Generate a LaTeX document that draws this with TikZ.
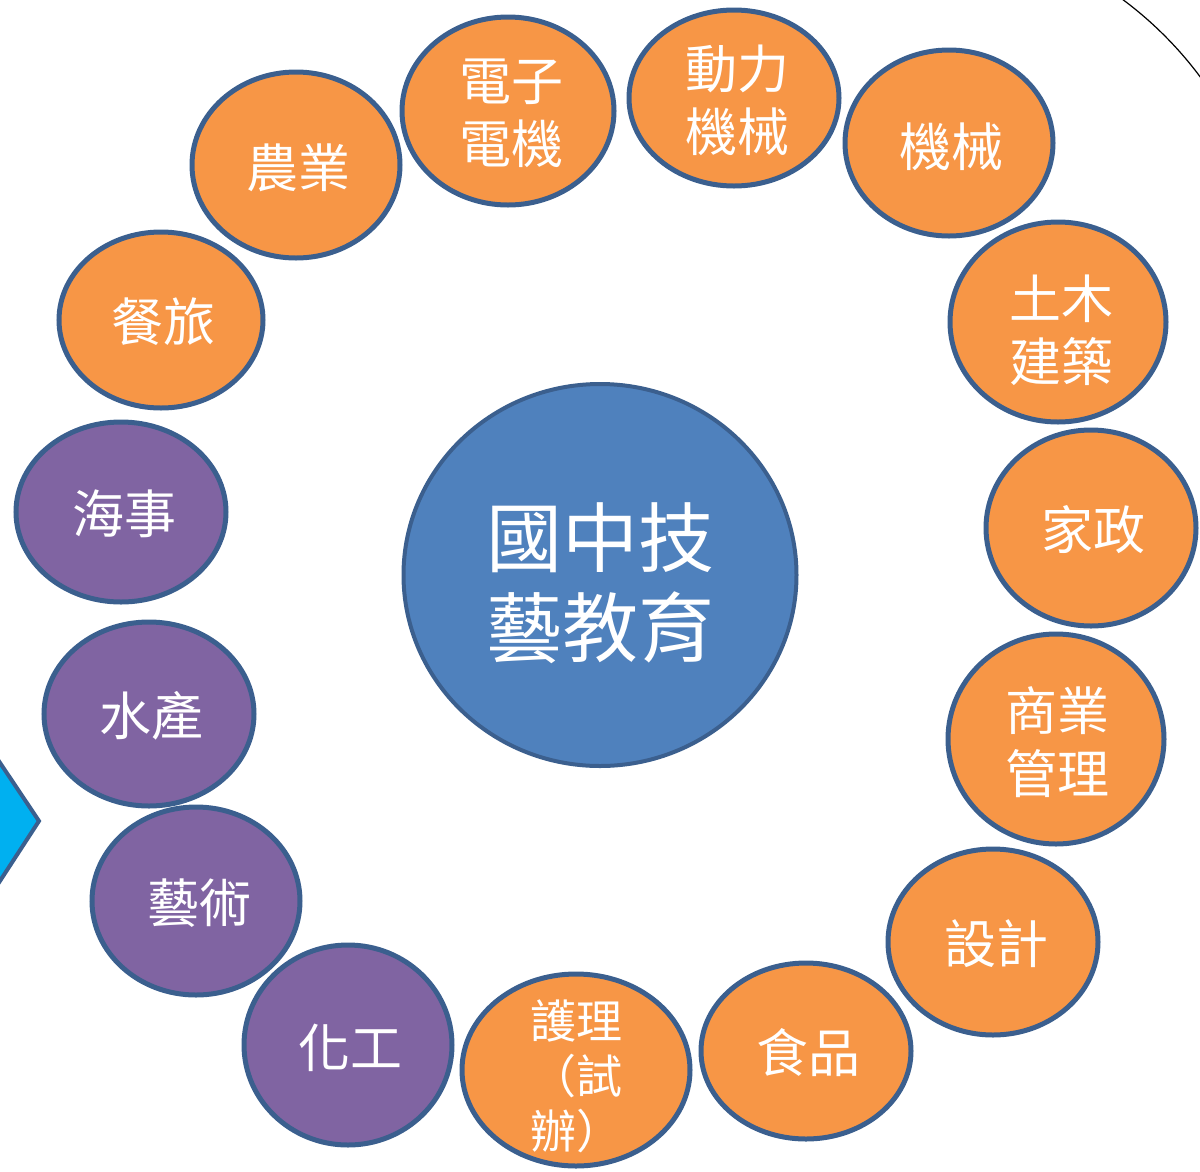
\documentclass[tikz,border=0pt]{standalone}
\usepackage{fontspec}
\setmainfont{Noto Sans CJK TC}
\usetikzlibrary{shapes.geometric}
\definecolor{orangefill}{HTML}{F79646}
\definecolor{purplefill}{HTML}{8064A2}
\definecolor{rimblue}{HTML}{3B5F8E}
\definecolor{corefill}{HTML}{4F81BD}
\definecolor{arrowcyan}{HTML}{00B0F0}

\begin{document}
\begin{tikzpicture}[x=1pt, y=-1pt, line width=5pt,
  blob/.style={ellipse, draw=rimblue, inner sep=0pt},
  orangeblob/.style={blob, fill=orangefill},
  purpleblob/.style={blob, fill=purplefill},
  blobtext/.style={text=white, align=center, inner sep=0pt, font=\fontsize{52}{63}\selectfont}]

  \useasboundingbox (0,0) rectangle (1200,1171);

  % arrow on the left edge and arc in the corner
  \draw[line width=4pt, draw=rimblue, fill=arrowcyan] (-30,718) -- (39,821) -- (-30,927) -- cycle;
  \begin{scope}
    \clip (1000,0) rectangle (1200,200);
    \draw[line width=1.2pt, black] (900,300) circle[radius=374];
  \end{scope}

  % centre
  \node[ellipse, draw=rimblue, fill=corefill, line width=4pt, inner sep=0pt,
        minimum width=393pt, minimum height=382pt] (core) at (600,575) {};
  \node[text=white, align=center, inner sep=0pt, font=\fontsize{76}{90}\selectfont]
        (core-txt) at (600,583) {國中技\\藝教育};

  % orange ring
  \node[orangeblob, minimum width=208pt, minimum height=186pt] (nongye) at (296,165) {};
  \node[blobtext] (nongye-txt) at (298,168) {農業};

  \node[orangeblob, minimum width=212pt, minimum height=188pt] (dianzi) at (508,111) {};
  \node[blobtext] (dianzi-txt) at (511,113) {電子\\電機};

  \node[orangeblob, minimum width=210pt, minimum height=176pt] (dongli) at (734,98) {};
  \node[blobtext] (dongli-txt) at (737,100) {動力\\機械};

  \node[orangeblob, minimum width=208pt, minimum height=186pt] (jixie) at (949,143) {};
  \node[blobtext] (jixie-txt) at (951,147) {機械};

  \node[orangeblob, minimum width=216pt, minimum height=200pt] (tumu) at (1058,322) {};
  \node[blobtext] (tumu-txt) at (1061,330) {土木\\建築};

  \node[orangeblob, minimum width=210pt, minimum height=196pt] (jiazheng) at (1091,528) {};
  \node[blobtext] (jiazheng-txt) at (1093,530) {家政};

  \node[orangeblob, minimum width=216pt, minimum height=210pt] (shangye) at (1056,739) {};
  \node[blobtext] (shangye-txt) at (1057,742) {商業\\管理};

  \node[orangeblob, minimum width=210pt, minimum height=186pt] (sheji) at (993,942) {};
  \node[blobtext] (sheji-txt) at (996,944) {設計};

  \node[orangeblob, minimum width=210pt, minimum height=176pt] (shipin) at (806,1051) {};
  \node[blobtext] (shipin-txt) at (808,1053) {食品};

  \node[orangeblob, minimum width=228pt, minimum height=192pt] (huli) at (576,1070) {};
  \node[blobtext, font=\fontsize{46}{55}\selectfont] (huli-txt) at (576,1076) {護理\\（試\\辦）};

  \node[orangeblob, minimum width=204pt, minimum height=176pt] (canlu) at (161,320) {};
  \node[blobtext] (canlu-txt) at (163,322) {餐旅};

  % purple ring
  \node[purpleblob, minimum width=208pt, minimum height=200pt] (huagong) at (348,1045) {};
  \node[blobtext] (huagong-txt) at (350,1048) {化工};

  \node[purpleblob, minimum width=208pt, minimum height=188pt] (yishu) at (196,901) {};
  \node[blobtext] (yishu-txt) at (199,903) {藝術};

  \node[purpleblob, minimum width=210pt, minimum height=184pt] (shuichan) at (149,714) {};
  \node[blobtext] (shuichan-txt) at (151,716) {水產};

  \node[purpleblob, minimum width=210pt, minimum height=180pt] (haishi) at (121,512) {};
  \node[blobtext] (haishi-txt) at (124,514) {海事};

\end{tikzpicture}
\end{document}
